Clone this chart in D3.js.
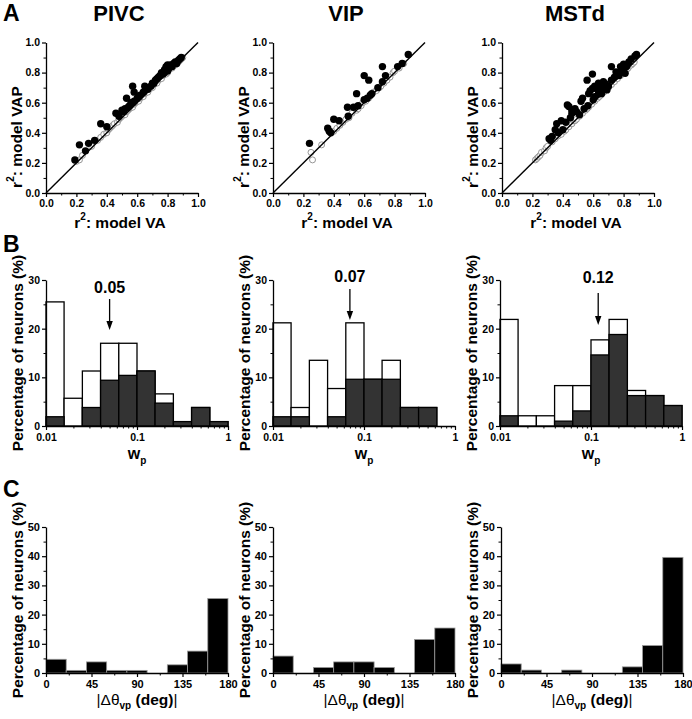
<!DOCTYPE html>
<html><head><meta charset="utf-8">
<script src="https://cdn.jsdelivr.net/npm/d3@7"></script>
<style>body{margin:0;background:#fff}svg{display:block}</style>
</head><body><svg id="c" width="692" height="719"></svg>
<script>
// ---------------- DATA ----------------
const areaNames = ["PIVC", "VIP", "MSTd"];
const panelLetters = ["A", "B", "C"];

// Row A: r^2 model VA (x) vs r^2 model VAP (y)
const pivcFilled = [[0.19,0.22],[0.22,0.32],[0.26,0.28],[0.28,0.33],[0.32,0.35],[0.36,0.46],[0.40,0.44],[0.46,0.53],[0.50,0.55],[0.53,0.63],[0.57,0.71],[0.58,0.67],[0.52,0.56],[0.55,0.58],[0.56,0.60],[0.58,0.61],[0.60,0.63],[0.62,0.65],[0.65,0.71],[0.64,0.67],[0.67,0.69],[0.69,0.71],[0.71,0.73],[0.72,0.75],[0.74,0.77],[0.75,0.78],[0.76,0.80],[0.77,0.79],[0.78,0.82],[0.79,0.84],[0.80,0.85],[0.80,0.81],[0.81,0.83],[0.82,0.85],[0.83,0.84],[0.84,0.86],[0.85,0.87],[0.86,0.86],[0.87,0.88],[0.88,0.89],[0.89,0.90],[0.78,0.80],[0.73,0.76],[0.70,0.73],[0.66,0.69],[0.61,0.64],[0.57,0.60],[0.54,0.57],[0.51,0.54],[0.48,0.51]];
const pivcOpen = [[0.20,0.21],[0.22,0.22],[0.24,0.25],[0.30,0.31],[0.34,0.35],[0.36,0.37],[0.38,0.39],[0.40,0.40],[0.41,0.42],[0.42,0.43],[0.43,0.44],[0.44,0.45],[0.45,0.46],[0.47,0.47],[0.48,0.49],[0.49,0.50],[0.50,0.51],[0.52,0.52],[0.53,0.54],[0.54,0.55],[0.55,0.56],[0.56,0.57],[0.57,0.57],[0.58,0.59],[0.59,0.60],[0.60,0.61],[0.61,0.61],[0.62,0.63],[0.63,0.64],[0.64,0.64],[0.65,0.66],[0.66,0.67],[0.67,0.67],[0.68,0.69],[0.69,0.70],[0.70,0.70],[0.71,0.72],[0.72,0.73],[0.73,0.73],[0.74,0.75],[0.75,0.76],[0.76,0.76],[0.77,0.78],[0.78,0.79],[0.79,0.79],[0.80,0.80],[0.81,0.82],[0.82,0.83],[0.83,0.83],[0.84,0.85],[0.85,0.85],[0.86,0.87],[0.87,0.87],[0.88,0.88],[0.89,0.89],[0.90,0.90]];
const vipFilled = [[0.24,0.33],[0.36,0.43],[0.37,0.41],[0.38,0.40],[0.40,0.49],[0.435,0.48],[0.49,0.57],[0.495,0.51],[0.53,0.57],[0.55,0.66],[0.56,0.58],[0.60,0.62],[0.60,0.78],[0.63,0.75],[0.62,0.63],[0.65,0.66],[0.69,0.70],[0.72,0.74],[0.72,0.84],[0.74,0.78],[0.82,0.84],[0.85,0.86],[0.89,0.92],[0.64,0.65]];
const vipOpen = [[0.25,0.27],[0.26,0.22],[0.32,0.32],[0.40,0.41],[0.42,0.43],[0.44,0.45],[0.46,0.47],[0.48,0.49],[0.50,0.50],[0.52,0.53],[0.55,0.55],[0.56,0.56],[0.57,0.58],[0.58,0.58],[0.59,0.60],[0.61,0.61],[0.63,0.63],[0.66,0.67],[0.68,0.68],[0.70,0.70],[0.71,0.71],[0.73,0.73],[0.75,0.75],[0.77,0.77],[0.79,0.80],[0.80,0.81],[0.83,0.83],[0.86,0.86]];
const mstdFilled = [[0.32,0.35],[0.33,0.375],[0.36,0.46],[0.37,0.40],[0.39,0.48],[0.40,0.42],[0.46,0.55],[0.43,0.585],[0.44,0.575],[0.45,0.50],[0.49,0.54],[0.51,0.52],[0.52,0.61],[0.53,0.63],[0.54,0.56],[0.56,0.75],[0.565,0.58],[0.595,0.79],[0.595,0.695],[0.61,0.64],[0.62,0.695],[0.635,0.73],[0.65,0.70],[0.655,0.66],[0.667,0.74],[0.68,0.725],[0.69,0.685],[0.72,0.84],[0.72,0.75],[0.74,0.77],[0.75,0.805],[0.765,0.80],[0.78,0.84],[0.79,0.82],[0.80,0.855],[0.81,0.795],[0.835,0.87],[0.85,0.89],[0.875,0.91],[0.885,0.92],[0.57,0.66],[0.60,0.62],[0.70,0.71],[0.46,0.53],[0.48,0.56],[0.35,0.42],[0.635,0.66],[0.61,0.71],[0.67,0.70],[0.58,0.68],[0.31,0.36],[0.42,0.47],[0.77,0.78],[0.82,0.84]];
const mstdOpen = [[0.22,0.22],[0.23,0.23],[0.24,0.24],[0.25,0.25],[0.26,0.27],[0.28,0.28],[0.29,0.30],[0.30,0.31],[0.33,0.34],[0.35,0.36],[0.37,0.38],[0.39,0.39],[0.41,0.41],[0.42,0.42],[0.44,0.44],[0.46,0.46],[0.47,0.48],[0.48,0.48],[0.49,0.49],[0.51,0.51],[0.53,0.53],[0.55,0.55],[0.56,0.56],[0.57,0.57],[0.59,0.59],[0.61,0.61],[0.63,0.63],[0.64,0.64],[0.65,0.65],[0.67,0.67],[0.69,0.69],[0.70,0.70],[0.72,0.72],[0.74,0.74],[0.76,0.76],[0.78,0.78],[0.80,0.80],[0.82,0.82],[0.83,0.83],[0.85,0.85],[0.86,0.86],[0.87,0.87]];
const scatterTicks = [0, 0.2, 0.4, 0.6, 0.8, 1.0];
const scatterMinor = [0.1, 0.3, 0.5, 0.7, 0.9];

// Row B: w_p histograms (log bins, 0.2 decade)
const wpEdges = [0.01, 0.0158, 0.0251, 0.0398, 0.0631, 0.1, 0.158, 0.251, 0.398, 0.631, 1];
const pivcWpAll = [25.5, 5.7, 11.3, 17.0, 17.0, 11.3, 6.6, 0.9, 3.8, 0.9];
const pivcWpSig = [1.9, 0, 3.8, 9.4, 10.4, 11.3, 4.7, 0.9, 3.8, 0.9];
const vipWpAll = [21.2, 3.8, 13.5, 7.7, 21.2, 9.6, 13.5, 3.8, 3.8, 0];
const vipWpSig = [1.9, 1.9, 0, 1.9, 9.6, 9.6, 9.6, 3.8, 3.8, 0];
const mstdWpAll = [21.9, 2.1, 2.1, 8.3, 8.3, 17.7, 21.9, 7.3, 6.25, 4.2];
const mstdWpSig = [2.1, 0, 0, 1.0, 3.1, 14.6, 18.8, 6.25, 6.25, 4.2];
const wpMedians = [0.05, 0.07, 0.12];
const wpMedianLabels = ["0.05", "0.07", "0.12"];
const wpTicks = [0.01, 0.1, 1];
const wpTickLabels = ["0.01", "0.1", "1"];
const wpMinor = [0.02,0.03,0.04,0.05,0.06,0.07,0.08,0.09,0.2,0.3,0.4,0.5,0.6,0.7,0.8,0.9];
const pctTicksB = [0, 10, 20, 30];
const pctMinorB = [5, 15, 25];

// Row C: |delta theta_vp| histograms (20 deg bins)
const dthEdges = [0, 20, 40, 60, 80, 100, 120, 140, 160, 180];
const pivcDth = [4.7, 0.9, 3.8, 0.9, 0.9, 0, 2.8, 7.5, 25.5];
const vipDth = [5.8, 0, 1.9, 3.8, 3.8, 1.9, 0, 11.5, 15.4];
const mstdDth = [3.1, 1.0, 0, 1.0, 0, 0, 2.1, 9.4, 39.6];
const dthTicks = [0, 45, 90, 135, 180];
const dthMinor = [22.5, 67.5, 112.5, 157.5];
const pctTicksC = [0, 10, 20, 30, 40, 50];
const pctMinorC = [5, 15, 25, 35, 45];

// ---------------- LAYOUT ----------------
const FONT = 'Arial, "Liberation Sans", Helvetica, sans-serif';
const svg = d3.select("#c");
const scatterX0 = [46, 273, 502], scatterW = 152, scatterTop = 42.5, scatterBot = 193;
const histBX0 = [46, 273, 500], histW = 182, histBTop = 280, histBBot = 426;
const histCX0 = [46, 273, 501], histCTop = 527, histCBot = 673;
const arrowLayout = [{lab:293, s:296, t:330}, {lab:282, s:286, t:320}, {lab:283, s:290, t:325}];

function T(sel){ return sel.attr("font-family", FONT).attr("font-weight","bold").attr("fill","#000"); }

function styleAxis(g, fs){
  g.select(".domain").attr("stroke","#000").attr("stroke-width",1.3);
  g.selectAll(".tick line").attr("stroke","#000").attr("stroke-width",1.2);
  g.selectAll(".tick text").attr("font-family",FONT).attr("font-weight","bold").attr("font-size",fs).attr("fill","#000");
}
function minorAxis(g, axisFn, scale, vals, tx, ty){
  const a = g.append("g").attr("transform",`translate(${tx},${ty})`)
    .call(axisFn(scale).tickValues(vals).tickSize(2.5).tickFormat(()=>""));
  a.select(".domain").remove();
  a.selectAll(".tick line").attr("stroke","#000").attr("stroke-width",1);
}
function yLabel(parent, cx, cy, fs){
  return T(parent.append("text")).attr("font-size",fs).attr("text-anchor","middle")
    .attr("transform",`translate(${cx},${cy}) rotate(-90)`);
}

// panel letters
T(svg.append("text")).attr("x",3).attr("y",21).attr("font-size",23).text(panelLetters[0]);
T(svg.append("text")).attr("x",3).attr("y",252).attr("font-size",23).text(panelLetters[1]);
T(svg.append("text")).attr("x",3).attr("y",497).attr("font-size",23).text(panelLetters[2]);

// ---------------- ROW A ----------------
const scatterSets = [[pivcOpen,pivcFilled],[vipOpen,vipFilled],[mstdOpen,mstdFilled]];
scatterSets.forEach(([open, filled], i) => {
  const x0 = scatterX0[i];
  const x = d3.scaleLinear().domain([0,1]).range([x0, x0+scatterW]);
  const y = d3.scaleLinear().domain([0,1]).range([scatterBot, scatterTop]);
  const g = svg.append("g");
  T(g.append("text")).attr("x", x(0.5)-3).attr("y", 21).attr("font-size", 22).attr("text-anchor","middle").text(areaNames[i]);
  g.selectAll("circle.o").data(open).join("circle").attr("class","o")
    .attr("cx", d=>x(d[0])).attr("cy", d=>y(d[1])).attr("r", 3)
    .attr("fill","#fff").attr("stroke","#8a8a8a").attr("stroke-width",0.9);
  g.append("line").attr("x1",x(0)).attr("y1",y(0)).attr("x2",x(1)).attr("y2",y(1))
    .attr("stroke","#000").attr("stroke-width",1.4);
  g.selectAll("circle.f").data(filled).join("circle").attr("class","f")
    .attr("cx", d=>x(d[0])).attr("cy", d=>y(d[1])).attr("r", 3.7).attr("fill","#000");
  const ax = g.append("g").attr("transform",`translate(0,${scatterBot})`)
    .call(d3.axisBottom(x).tickValues(scatterTicks).tickFormat(d3.format(".1f")).tickSize(4).tickSizeOuter(0).tickPadding(3));
  styleAxis(ax, 10.5);
  const ay = g.append("g").attr("transform",`translate(${x0},0)`)
    .call(d3.axisLeft(y).tickValues(scatterTicks).tickFormat(d3.format(".1f")).tickSize(4).tickSizeOuter(0).tickPadding(2));
  styleAxis(ay, 10.5);
  minorAxis(g, d3.axisBottom, x, scatterMinor, 0, scatterBot);
  minorAxis(g, d3.axisLeft, y, scatterMinor, x0, 0);
  const xl = T(g.append("text")).attr("x", x(0.5)-2).attr("y", 228).attr("font-size",15.5).attr("text-anchor","middle");
  xl.append("tspan").text("r");
  xl.append("tspan").attr("font-size",10).attr("dy",-8).text("2");
  xl.append("tspan").attr("dy",8).text(": model VA");
  const yl = yLabel(g, x0-24, 137, 15.5);
  yl.append("tspan").text("r");
  yl.append("tspan").attr("font-size",10).attr("dy",-8).text("2");
  yl.append("tspan").attr("dy",8).text(": model VAP");
});

// ---------------- ROW B ----------------
const wpSets = [[pivcWpAll,pivcWpSig],[vipWpAll,vipWpSig],[mstdWpAll,mstdWpSig]];
wpSets.forEach(([all, sig], i) => {
  const x0 = histBX0[i];
  const x = d3.scaleLog().domain([0.01,1]).range([x0, x0+histW]);
  const y = d3.scaleLinear().domain([0,30]).range([histBBot, histBTop]);
  const g = svg.append("g");
  const bins = all.map((v,k)=>({a:wpEdges[k], b:wpEdges[k+1], all:v, sig:sig[k]}));
  g.selectAll("rect.all").data(bins.filter(d=>d.all>0)).join("rect").attr("class","all")
    .attr("x", d=>x(d.a)).attr("width", d=>x(d.b)-x(d.a))
    .attr("y", d=>y(d.all)).attr("height", d=>y(0)-y(d.all))
    .attr("fill","#fff").attr("stroke","#000").attr("stroke-width",1.3);
  g.selectAll("rect.sig").data(bins.filter(d=>d.sig>0)).join("rect").attr("class","sig")
    .attr("x", d=>x(d.a)).attr("width", d=>x(d.b)-x(d.a))
    .attr("y", d=>y(d.sig)).attr("height", d=>y(0)-y(d.sig))
    .attr("fill","#333").attr("stroke","#000").attr("stroke-width",1.3);
  const ax = g.append("g").attr("transform",`translate(0,${histBBot})`)
    .call(d3.axisBottom(x).tickValues(wpTicks).tickFormat((d,k)=>wpTickLabels[k]).tickSize(4).tickSizeOuter(0).tickPadding(3.5));
  styleAxis(ax, 10.5);
  const ay = g.append("g").attr("transform",`translate(${x0},0)`)
    .call(d3.axisLeft(y).tickValues(pctTicksB).tickSize(4).tickSizeOuter(0).tickPadding(2));
  styleAxis(ay, 10.5);
  minorAxis(g, d3.axisBottom, x, wpMinor, 0, histBBot);
  minorAxis(g, d3.axisLeft, y, pctMinorB, x0, 0);
  const mx = x(wpMedians[i]), L = arrowLayout[i];
  T(g.append("text")).attr("x", mx).attr("y", L.lab).attr("font-size",16).attr("text-anchor","middle").text(wpMedianLabels[i]);
  g.append("line").attr("x1",mx).attr("x2",mx).attr("y1",L.s+3).attr("y2",L.t-7).attr("stroke","#000").attr("stroke-width",1.3);
  g.append("path").attr("d",`M${mx},${L.t} L${mx-3.2},${L.t-9} L${mx+3.2},${L.t-9} Z`).attr("fill","#000");
  const xl = T(g.append("text")).attr("x", x(0.1)).attr("y", 459).attr("font-size",16).attr("text-anchor","middle");
  xl.append("tspan").text("w");
  xl.append("tspan").attr("font-size",10).attr("dy",5).text("p");
  yLabel(g, x0-23, (histBTop+histBBot)/2, 15.5).text("Percentage of neurons (%)");
});

// ---------------- ROW C ----------------
const dthSets = [pivcDth, vipDth, mstdDth];
dthSets.forEach((vals, i) => {
  const x0 = histCX0[i];
  const x = d3.scaleLinear().domain([0,180]).range([x0, x0+histW]);
  const y = d3.scaleLinear().domain([0,50]).range([histCBot, histCTop]);
  const g = svg.append("g");
  const bins = vals.map((v,k)=>({a:dthEdges[k], b:dthEdges[k+1], v}));
  g.selectAll("rect").data(bins.filter(d=>d.v>0)).join("rect")
    .attr("x", d=>x(d.a)).attr("width", d=>x(d.b)-x(d.a))
    .attr("y", d=>y(d.v)).attr("height", d=>y(0)-y(d.v))
    .attr("fill","#000").attr("stroke","#9a9a9a").attr("stroke-width",0.8);
  const ax = g.append("g").attr("transform",`translate(0,${histCBot})`)
    .call(d3.axisBottom(x).tickValues(dthTicks).tickSize(4).tickSizeOuter(0).tickPadding(3.5));
  styleAxis(ax, 11);
  const ay = g.append("g").attr("transform",`translate(${x0},0)`)
    .call(d3.axisLeft(y).tickValues(pctTicksC).tickSize(4).tickSizeOuter(0).tickPadding(2));
  styleAxis(ay, 11);
  minorAxis(g, d3.axisBottom, x, dthMinor, 0, histCBot);
  minorAxis(g, d3.axisLeft, y, pctMinorC, x0, 0);
  const xl = T(g.append("text")).attr("x", x(90)).attr("y", 705).attr("font-size",15.5).attr("text-anchor","middle");
  xl.append("tspan").attr("font-weight","normal").text("|Δθ");
  xl.append("tspan").attr("font-size",10).attr("dy",4).text("vp");
  xl.append("tspan").attr("dy",-4).text(" (deg)");
  xl.append("tspan").attr("font-weight","normal").text("|");
  yLabel(g, x0-23, (histCTop+histCBot)/2, 15.5).text("Percentage of neurons (%)");
});
</script></body></html>
